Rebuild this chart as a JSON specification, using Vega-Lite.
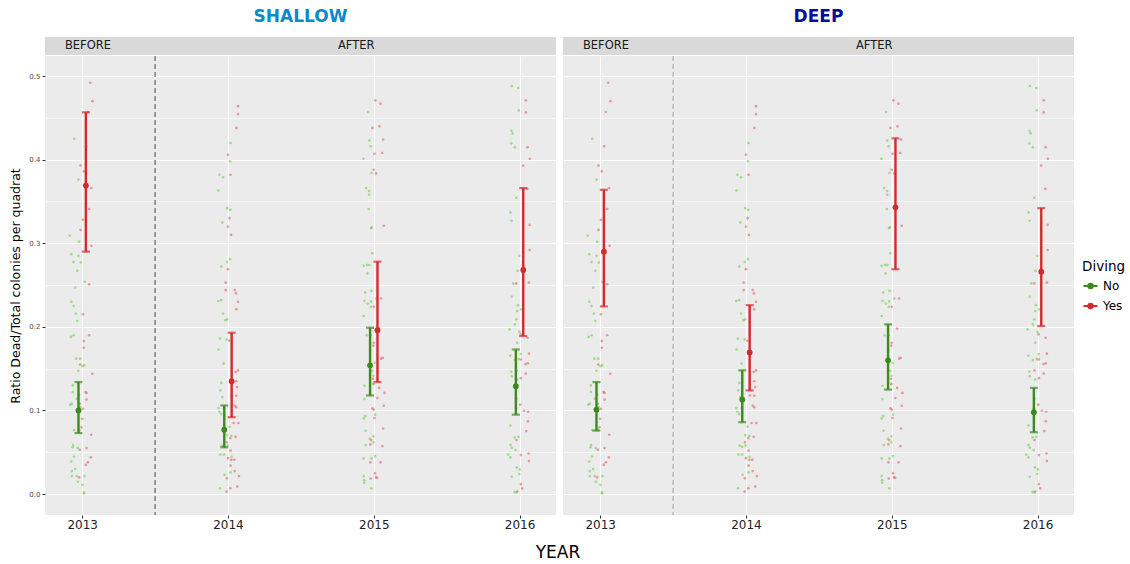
{
"$schema": "https://vega.github.io/schema/vega-lite/v6.json",
"padding": {"left": 9, "top": 8, "right": 5, "bottom": 5},
"config": {"font": "DejaVu Sans", "view": {"fill": "#ebebeb", "stroke": null}},
"title": {"text": "YEAR", "orient": "bottom", "anchor": "middle", "fontSize": 17, "fontWeight": "normal", "color": "#000000", "offset": 15, "frame": "group", "dx": 513},
"datasets": {
"sum": [
{"depth":"SHALLOW","diving":"No","year":2013,"mean":0.100,"lo":0.073,"hi":0.134},
{"depth":"SHALLOW","diving":"Yes","year":2013,"mean":0.369,"lo":0.290,"hi":0.4566},
{"depth":"SHALLOW","diving":"No","year":2014,"mean":0.077,"lo":0.056,"hi":0.106},
{"depth":"SHALLOW","diving":"Yes","year":2014,"mean":0.135,"lo":0.092,"hi":0.193},
{"depth":"SHALLOW","diving":"No","year":2015,"mean":0.154,"lo":0.118,"hi":0.199},
{"depth":"SHALLOW","diving":"Yes","year":2015,"mean":0.196,"lo":0.134,"hi":0.278},
{"depth":"SHALLOW","diving":"No","year":2016,"mean":0.129,"lo":0.095,"hi":0.173},
{"depth":"SHALLOW","diving":"Yes","year":2016,"mean":0.268,"lo":0.189,"hi":0.366},
{"depth":"DEEP","diving":"No","year":2013,"mean":0.101,"lo":0.076,"hi":0.134},
{"depth":"DEEP","diving":"Yes","year":2013,"mean":0.290,"lo":0.2245,"hi":0.364},
{"depth":"DEEP","diving":"No","year":2014,"mean":0.113,"lo":0.086,"hi":0.148},
{"depth":"DEEP","diving":"Yes","year":2014,"mean":0.1695,"lo":0.124,"hi":0.226},
{"depth":"DEEP","diving":"No","year":2015,"mean":0.160,"lo":0.125,"hi":0.203},
{"depth":"DEEP","diving":"Yes","year":2015,"mean":0.343,"lo":0.269,"hi":0.4255},
{"depth":"DEEP","diving":"No","year":2016,"mean":0.098,"lo":0.074,"hi":0.127},
{"depth":"DEEP","diving":"Yes","year":2016,"mean":0.266,"lo":0.201,"hi":0.342}
],
"pts": [
{"diving":"Yes","year":2013.055,"ratio":0.492},{"diving":"Yes","year":2013.071,"ratio":0.470},{"diving":"Yes","year":2013.039,"ratio":0.457},{"diving":"Yes","year":2013.027,"ratio":0.416},{"diving":"Yes","year":2012.989,"ratio":0.393},{"diving":"Yes","year":2013.011,"ratio":0.386},{"diving":"Yes","year":2013.062,"ratio":0.366},{"diving":"Yes","year":2013.048,"ratio":0.341},{"diving":"Yes","year":2013.005,"ratio":0.328},{"diving":"Yes","year":2012.989,"ratio":0.316},{"diving":"Yes","year":2013.064,"ratio":0.297},{"diving":"Yes","year":2013.048,"ratio":0.251},{"diving":"Yes","year":2013.005,"ratio":0.215},{"diving":"Yes","year":2013.048,"ratio":0.190},{"diving":"Yes","year":2013.011,"ratio":0.183},{"diving":"Yes","year":2013.011,"ratio":0.175},{"diving":"Yes","year":2012.986,"ratio":0.155},{"diving":"Yes","year":2013.069,"ratio":0.144},{"diving":"Yes","year":2013.023,"ratio":0.122},{"diving":"Yes","year":2013.030,"ratio":0.121},{"diving":"Yes","year":2012.979,"ratio":0.119},{"diving":"Yes","year":2013.030,"ratio":0.113},{"diving":"Yes","year":2012.984,"ratio":0.108},{"diving":"Yes","year":2013.005,"ratio":0.102},{"diving":"Yes","year":2013.000,"ratio":0.090},{"diving":"Yes","year":2012.995,"ratio":0.080},{"diving":"Yes","year":2013.062,"ratio":0.071},{"diving":"Yes","year":2013.030,"ratio":0.055},{"diving":"Yes","year":2012.984,"ratio":0.053},{"diving":"Yes","year":2013.039,"ratio":0.038},{"diving":"Yes","year":2013.025,"ratio":0.035},{"diving":"Yes","year":2013.059,"ratio":0.044},{"diving":"Yes","year":2012.979,"ratio":0.020},
{"diving":"No","year":2012.945,"ratio":0.425},{"diving":"No","year":2012.975,"ratio":0.376},{"diving":"No","year":2012.915,"ratio":0.309},{"diving":"No","year":2012.979,"ratio":0.302},{"diving":"No","year":2012.925,"ratio":0.287},{"diving":"No","year":2012.975,"ratio":0.285},{"diving":"No","year":2012.941,"ratio":0.2775},{"diving":"No","year":2012.991,"ratio":0.277},{"diving":"No","year":2012.966,"ratio":0.267},{"diving":"No","year":2013.016,"ratio":0.254},{"diving":"No","year":2012.952,"ratio":0.247},{"diving":"No","year":2012.925,"ratio":0.230},{"diving":"No","year":2012.941,"ratio":0.225},{"diving":"No","year":2012.957,"ratio":0.216},{"diving":"No","year":2012.966,"ratio":0.207},{"diving":"No","year":2012.922,"ratio":0.188},{"diving":"No","year":2012.941,"ratio":0.190},{"diving":"No","year":2012.959,"ratio":0.162},{"diving":"No","year":2012.986,"ratio":0.162},{"diving":"No","year":2012.973,"ratio":0.1475},{"diving":"No","year":2013.002,"ratio":0.153},{"diving":"No","year":2013.014,"ratio":0.154},{"diving":"No","year":2012.936,"ratio":0.130},{"diving":"No","year":2012.936,"ratio":0.122},{"diving":"No","year":2012.963,"ratio":0.114},{"diving":"No","year":2012.929,"ratio":0.108},{"diving":"No","year":2012.918,"ratio":0.107},{"diving":"No","year":2012.989,"ratio":0.104},{"diving":"No","year":2012.945,"ratio":0.0766},{"diving":"No","year":2012.982,"ratio":0.0766},{"diving":"No","year":2012.938,"ratio":0.0586},{"diving":"No","year":2012.934,"ratio":0.056},{"diving":"No","year":2012.970,"ratio":0.055},{"diving":"No","year":2012.945,"ratio":0.045},{"diving":"No","year":2012.925,"ratio":0.039},{"diving":"No","year":2012.929,"ratio":0.0275},{"diving":"No","year":2012.952,"ratio":0.030},{"diving":"No","year":2012.929,"ratio":0.0215},{"diving":"No","year":2012.963,"ratio":0.0215},{"diving":"No","year":2012.970,"ratio":0.0148},{"diving":"No","year":2013.016,"ratio":0.0215},{"diving":"No","year":2013.002,"ratio":0.011},{"diving":"No","year":2013.011,"ratio":0.002},{"diving":"No","year":2013.014,"ratio":0.001},
{"diving":"Yes","year":2014.069,"ratio":0.464},{"diving":"Yes","year":2014.069,"ratio":0.4545},{"diving":"Yes","year":2014.057,"ratio":0.438},{"diving":"Yes","year":2014.000,"ratio":0.406},{"diving":"Yes","year":2014.018,"ratio":0.382},{"diving":"Yes","year":2014.011,"ratio":0.330},{"diving":"Yes","year":2014.000,"ratio":0.320},{"diving":"Yes","year":2014.021,"ratio":0.310},{"diving":"Yes","year":2014.000,"ratio":0.269},{"diving":"Yes","year":2013.984,"ratio":0.253},{"diving":"Yes","year":2013.984,"ratio":0.244},{"diving":"Yes","year":2014.046,"ratio":0.244},{"diving":"Yes","year":2014.055,"ratio":0.240},{"diving":"Yes","year":2014.069,"ratio":0.230},{"diving":"Yes","year":2014.057,"ratio":0.221},{"diving":"Yes","year":2014.009,"ratio":0.1834},{"diving":"Yes","year":2014.069,"ratio":0.148},{"diving":"Yes","year":2014.053,"ratio":0.146},{"diving":"Yes","year":2014.057,"ratio":0.135},{"diving":"Yes","year":2014.062,"ratio":0.128},{"diving":"Yes","year":2014.027,"ratio":0.118},{"diving":"Yes","year":2014.057,"ratio":0.1175},{"diving":"Yes","year":2014.046,"ratio":0.106},{"diving":"Yes","year":2014.057,"ratio":0.104},{"diving":"Yes","year":2013.973,"ratio":0.1025},{"diving":"Yes","year":2014.039,"ratio":0.085},{"diving":"Yes","year":2014.071,"ratio":0.085},{"diving":"Yes","year":2014.016,"ratio":0.067},{"diving":"Yes","year":2013.993,"ratio":0.062},{"diving":"Yes","year":2014.053,"ratio":0.0686},{"diving":"Yes","year":2014.018,"ratio":0.052},{"diving":"Yes","year":2014.000,"ratio":0.043},{"diving":"Yes","year":2014.023,"ratio":0.041},{"diving":"Yes","year":2014.043,"ratio":0.041},{"diving":"Yes","year":2014.018,"ratio":0.034},{"diving":"Yes","year":2014.046,"ratio":0.0275},{"diving":"Yes","year":2014.075,"ratio":0.0215},{"diving":"Yes","year":2013.993,"ratio":0.019},{"diving":"Yes","year":2014.064,"ratio":0.009},{"diving":"Yes","year":2014.016,"ratio":0.007},{"diving":"Yes","year":2013.991,"ratio":0.003},
{"diving":"No","year":2014.018,"ratio":0.420},{"diving":"No","year":2014.014,"ratio":0.398},{"diving":"No","year":2013.941,"ratio":0.382},{"diving":"No","year":2013.966,"ratio":0.379},{"diving":"No","year":2013.934,"ratio":0.363},{"diving":"No","year":2013.995,"ratio":0.342},{"diving":"No","year":2014.016,"ratio":0.340},{"diving":"No","year":2013.961,"ratio":0.325},{"diving":"No","year":2014.014,"ratio":0.281},{"diving":"No","year":2013.993,"ratio":0.2775},{"diving":"No","year":2013.954,"ratio":0.272},{"diving":"No","year":2013.934,"ratio":0.231},{"diving":"No","year":2013.954,"ratio":0.232},{"diving":"No","year":2013.966,"ratio":0.216},{"diving":"No","year":2013.982,"ratio":0.208},{"diving":"No","year":2013.995,"ratio":0.209},{"diving":"No","year":2013.945,"ratio":0.186},{"diving":"No","year":2013.991,"ratio":0.185},{"diving":"No","year":2013.936,"ratio":0.173},{"diving":"No","year":2013.970,"ratio":0.156},{"diving":"No","year":2013.954,"ratio":0.133},{"diving":"No","year":2013.947,"ratio":0.124},{"diving":"No","year":2013.961,"ratio":0.116},{"diving":"No","year":2013.934,"ratio":0.103},{"diving":"No","year":2013.941,"ratio":0.0985},{"diving":"No","year":2013.954,"ratio":0.0957},{"diving":"No","year":2014.011,"ratio":0.0805},{"diving":"No","year":2013.995,"ratio":0.0706},{"diving":"No","year":2014.023,"ratio":0.0698},{"diving":"No","year":2013.957,"ratio":0.058},{"diving":"No","year":2013.973,"ratio":0.0566},{"diving":"No","year":2013.998,"ratio":0.058},{"diving":"No","year":2013.947,"ratio":0.0474},{"diving":"No","year":2013.973,"ratio":0.0474},{"diving":"No","year":2014.025,"ratio":0.0447},{"diving":"No","year":2014.018,"ratio":0.026},{"diving":"No","year":2013.977,"ratio":0.023},{"diving":"No","year":2013.945,"ratio":0.007},
{"diving":"Yes","year":2015.011,"ratio":0.471},{"diving":"Yes","year":2015.046,"ratio":0.467},{"diving":"Yes","year":2014.991,"ratio":0.438},{"diving":"Yes","year":2015.039,"ratio":0.440},{"diving":"Yes","year":2015.064,"ratio":0.424},{"diving":"Yes","year":2015.057,"ratio":0.408},{"diving":"Yes","year":2015.005,"ratio":0.407},{"diving":"Yes","year":2015.000,"ratio":0.388},{"diving":"Yes","year":2015.016,"ratio":0.3836},{"diving":"Yes","year":2015.069,"ratio":0.321},{"diving":"Yes","year":2015.050,"ratio":0.234},{"diving":"Yes","year":2015.000,"ratio":0.224},{"diving":"Yes","year":2015.037,"ratio":0.198},{"diving":"Yes","year":2015.000,"ratio":0.181},{"diving":"Yes","year":2014.998,"ratio":0.1775},{"diving":"Yes","year":2015.050,"ratio":0.162},{"diving":"Yes","year":2015.062,"ratio":0.163},{"diving":"Yes","year":2014.995,"ratio":0.138},{"diving":"Yes","year":2014.998,"ratio":0.1316},{"diving":"Yes","year":2015.037,"ratio":0.127},{"diving":"Yes","year":2015.073,"ratio":0.121},{"diving":"Yes","year":2015.025,"ratio":0.115},{"diving":"Yes","year":2015.069,"ratio":0.1057},{"diving":"Yes","year":2014.991,"ratio":0.1025},{"diving":"Yes","year":2015.000,"ratio":0.101},{"diving":"Yes","year":2015.005,"ratio":0.091},{"diving":"Yes","year":2015.064,"ratio":0.0785},{"diving":"Yes","year":2014.982,"ratio":0.0646},{"diving":"Yes","year":2015.059,"ratio":0.0574},{"diving":"Yes","year":2014.977,"ratio":0.0594},{"diving":"Yes","year":2015.046,"ratio":0.038},{"diving":"Yes","year":2014.977,"ratio":0.038},{"diving":"Yes","year":2015.009,"ratio":0.025},{"diving":"Yes","year":2014.979,"ratio":0.0187},{"diving":"Yes","year":2015.016,"ratio":0.020},{"diving":"Yes","year":2015.023,"ratio":0.0195},
{"diving":"No","year":2014.961,"ratio":0.457},{"diving":"No","year":2014.970,"ratio":0.423},{"diving":"No","year":2014.979,"ratio":0.416},{"diving":"No","year":2014.929,"ratio":0.401},{"diving":"No","year":2014.984,"ratio":0.384},{"diving":"No","year":2014.947,"ratio":0.366},{"diving":"No","year":2014.968,"ratio":0.3624},{"diving":"No","year":2014.968,"ratio":0.358},{"diving":"No","year":2014.966,"ratio":0.341},{"diving":"No","year":2014.982,"ratio":0.318},{"diving":"No","year":2014.986,"ratio":0.319},{"diving":"No","year":2014.989,"ratio":0.288},{"diving":"No","year":2014.931,"ratio":0.273},{"diving":"No","year":2014.954,"ratio":0.274},{"diving":"No","year":2014.970,"ratio":0.274},{"diving":"No","year":2014.957,"ratio":0.264},{"diving":"No","year":2014.941,"ratio":0.241},{"diving":"No","year":2014.984,"ratio":0.243},{"diving":"No","year":2014.936,"ratio":0.231},{"diving":"No","year":2014.959,"ratio":0.228},{"diving":"No","year":2014.982,"ratio":0.2305},{"diving":"No","year":2015.018,"ratio":0.234},{"diving":"No","year":2014.979,"ratio":0.224},{"diving":"No","year":2014.931,"ratio":0.213},{"diving":"No","year":2014.952,"ratio":0.190},{"diving":"No","year":2014.979,"ratio":0.190},{"diving":"No","year":2014.975,"ratio":0.172},{"diving":"No","year":2015.007,"ratio":0.157},{"diving":"No","year":2014.991,"ratio":0.1475},{"diving":"No","year":2014.998,"ratio":0.1415},{"diving":"No","year":2014.995,"ratio":0.132},{"diving":"No","year":2014.936,"ratio":0.1296},{"diving":"No","year":2014.936,"ratio":0.1136},{"diving":"No","year":2014.941,"ratio":0.0933},{"diving":"No","year":2014.931,"ratio":0.0905},{"diving":"No","year":2015.009,"ratio":0.095},{"diving":"No","year":2014.943,"ratio":0.0758},{"diving":"No","year":2014.973,"ratio":0.066},{"diving":"No","year":2014.998,"ratio":0.069},{"diving":"No","year":2014.945,"ratio":0.0586},{"diving":"No","year":2014.998,"ratio":0.062},{"diving":"No","year":2014.931,"ratio":0.0427},{"diving":"No","year":2014.984,"ratio":0.0427},{"diving":"No","year":2015.009,"ratio":0.0455},{"diving":"No","year":2014.931,"ratio":0.0215},{"diving":"No","year":2014.934,"ratio":0.0167},{"diving":"No","year":2014.934,"ratio":0.0136},{"diving":"No","year":2014.984,"ratio":0.0068},
{"diving":"Yes","year":2016.043,"ratio":0.471},{"diving":"Yes","year":2016.043,"ratio":0.4565},{"diving":"Yes","year":2016.055,"ratio":0.415},{"diving":"Yes","year":2016.071,"ratio":0.401},{"diving":"Yes","year":2016.025,"ratio":0.393},{"diving":"Yes","year":2016.053,"ratio":0.365},{"diving":"Yes","year":2016.069,"ratio":0.322},{"diving":"Yes","year":2016.069,"ratio":0.292},{"diving":"Yes","year":2016.064,"ratio":0.253},{"diving":"Yes","year":2015.977,"ratio":0.252},{"diving":"Yes","year":2016.007,"ratio":0.191},{"diving":"Yes","year":2016.055,"ratio":0.187},{"diving":"Yes","year":2016.064,"ratio":0.168},{"diving":"Yes","year":2016.009,"ratio":0.161},{"diving":"Yes","year":2016.057,"ratio":0.1565},{"diving":"Yes","year":2016.041,"ratio":0.1555},{"diving":"Yes","year":2015.979,"ratio":0.148},{"diving":"Yes","year":2016.043,"ratio":0.1443},{"diving":"Yes","year":2016.009,"ratio":0.1387},{"diving":"Yes","year":2015.977,"ratio":0.1144},{"diving":"Yes","year":2016.005,"ratio":0.107},{"diving":"Yes","year":2016.030,"ratio":0.0997},{"diving":"Yes","year":2016.059,"ratio":0.0985},{"diving":"Yes","year":2016.057,"ratio":0.087},{"diving":"Yes","year":2016.046,"ratio":0.0754},{"diving":"Yes","year":2015.979,"ratio":0.0646},{"diving":"Yes","year":2016.009,"ratio":0.0467},{"diving":"Yes","year":2016.062,"ratio":0.0486},{"diving":"Yes","year":2016.064,"ratio":0.0395},{"diving":"Yes","year":2016.009,"ratio":0.012},{"diving":"Yes","year":2016.018,"ratio":0.0068},{"diving":"Yes","year":2015.984,"ratio":0.003},
{"diving":"No","year":2015.947,"ratio":0.488},{"diving":"No","year":2015.991,"ratio":0.4857},{"diving":"No","year":2015.995,"ratio":0.459},{"diving":"No","year":2015.945,"ratio":0.4346},{"diving":"No","year":2015.952,"ratio":0.4314},{"diving":"No","year":2015.943,"ratio":0.4195},{"diving":"No","year":2015.968,"ratio":0.415},{"diving":"No","year":2015.977,"ratio":0.3545},{"diving":"No","year":2015.938,"ratio":0.337},{"diving":"No","year":2015.945,"ratio":0.327},{"diving":"No","year":2015.998,"ratio":0.285},{"diving":"No","year":2015.986,"ratio":0.267},{"diving":"No","year":2015.957,"ratio":0.252},{"diving":"No","year":2015.947,"ratio":0.236},{"diving":"No","year":2015.989,"ratio":0.226},{"diving":"No","year":2015.984,"ratio":0.219},{"diving":"No","year":2016.011,"ratio":0.221},{"diving":"No","year":2015.977,"ratio":0.209},{"diving":"No","year":2015.968,"ratio":0.203},{"diving":"No","year":2015.931,"ratio":0.197},{"diving":"No","year":2016.000,"ratio":0.194},{"diving":"No","year":2015.984,"ratio":0.181},{"diving":"No","year":2015.936,"ratio":0.1655},{"diving":"No","year":2015.968,"ratio":0.1603},{"diving":"No","year":2016.009,"ratio":0.1675},{"diving":"No","year":2015.995,"ratio":0.1615},{"diving":"No","year":2015.943,"ratio":0.1463},{"diving":"No","year":2015.947,"ratio":0.141},{"diving":"No","year":2015.984,"ratio":0.137},{"diving":"No","year":2015.975,"ratio":0.1025},{"diving":"No","year":2015.938,"ratio":0.082},{"diving":"No","year":2015.966,"ratio":0.0678},{"diving":"No","year":2015.993,"ratio":0.0686},{"diving":"No","year":2015.938,"ratio":0.0586},{"diving":"No","year":2015.947,"ratio":0.0554},{"diving":"No","year":2015.973,"ratio":0.0526},{"diving":"No","year":2015.922,"ratio":0.0474},{"diving":"No","year":2015.938,"ratio":0.0439},{"diving":"No","year":2015.982,"ratio":0.032},{"diving":"No","year":2016.002,"ratio":0.0295},{"diving":"No","year":2015.947,"ratio":0.0207},{"diving":"No","year":2015.966,"ratio":0.0024},{"diving":"No","year":2015.979,"ratio":0.002},{"diving":"No","year":2015.998,"ratio":0.024}
]
},
"spacing": 7,
"hconcat": [
{
"spacing": 0,
"vconcat": [
{
"title": {"text": "SHALLOW", "color": "#0a8ac8", "fontSize": 17, "fontWeight": "bold", "anchor": "middle", "offset": 11},
"width": 511, "height": 18,
"view": {"fill": "#d9d9d9", "stroke": null},
"data": {"values": [{}]},
"layer": [
{"mark": {"type": "text", "text": "BEFORE", "fontSize": 11.5, "color": "#1a1a1a"}, "encoding": {"x": {"datum": 2013.04, "type": "quantitative", "scale": {"domain": [2012.745, 2016.25], "nice": false, "zero": false}, "axis": null}}},
{"mark": {"type": "text", "text": "AFTER", "fontSize": 11.5, "color": "#1a1a1a"}, "encoding": {"x": {"datum": 2014.88, "type": "quantitative"}}}
]
},
{
"width": 511, "height": 459,
"layer": [
{"data": {"name": "pts"},
 "mark": {"type": "point", "filled": true, "size": 7, "opacity": 0.6, "color": {"expr": "datum.diving === 'No' ? '#6fcf4a' : '#e06060'"}},
 "encoding": {
  "x": {"field": "year", "type": "quantitative", "scale": {"domain": [2012.745, 2016.25], "nice": false, "zero": false},
   "axis": {"values": [2013, 2013.5, 2014, 2014.5, 2015, 2015.5, 2016], "title": null, "domain": false, "format": "d", "labelOverlap": false, "labelFlush": false, "labelExpr": "datum.value % 1 === 0 ? datum.label : ''", "labelFontSize": 12, "labelColor": "#222222", "labelPadding": 1, "tickColor": "#333333", "tickSize": 3, "tickOpacity": {"condition": {"test": "datum.value % 1 !== 0", "value": 0}, "value": 1}, "gridColor": "#ffffff", "gridWidth": {"condition": {"test": "datum.value % 1 !== 0", "value": 0.5}, "value": 1.1}}},
  "y": {"field": "ratio", "type": "quantitative", "scale": {"domain": [-0.025, 0.524], "nice": false, "zero": false},
   "axis": {"values": [0, 0.05, 0.1, 0.15, 0.2, 0.25, 0.3, 0.35, 0.4, 0.45, 0.5], "title": "Ratio Dead/Total colonies per quadrat", "titleFontSize": 12.5, "titleFontWeight": "normal", "titleColor": "#000000", "titlePadding": 6, "domain": false, "format": ".1f", "labelOverlap": false, "labelFlush": false, "labelExpr": "abs(datum.value*10 - round(datum.value*10)) < 0.001 ? datum.label : ''", "labelFontSize": 7, "labelColor": "#4d4d4d", "labelPadding": 2, "tickColor": "#333333", "tickSize": 3, "tickOpacity": {"condition": {"test": "abs(datum.value*10 - round(datum.value*10)) > 0.001", "value": 0}, "value": 1}, "gridColor": "#ffffff", "gridWidth": {"condition": {"test": "abs(datum.value*10 - round(datum.value*10)) > 0.001", "value": 0.5}, "value": 1.1}}}
 }},
{"data": {"values": [{}]},
 "mark": {"type": "rule", "strokeDash": [5, 3], "color": "#555555", "strokeWidth": 1.1},
 "encoding": {"x": {"datum": 2013.5, "type": "quantitative"}}},
{"data": {"name": "sum"}, "transform": [{"filter": "datum.depth === 'SHALLOW'"}],
 "mark": {"type": "rule", "strokeWidth": 2.4, "xOffset": {"expr": "datum.diving === 'No' ? -3.7 : 3.7"}},
 "encoding": {"x": {"field": "year", "type": "quantitative"}, "y": {"field": "lo", "type": "quantitative"}, "y2": {"field": "hi"},
  "color": {"field": "diving", "type": "nominal", "scale": {"domain": ["No", "Yes"], "range": ["#3b8a1e", "#d42a2e"]},
   "legend": {"title": "Diving", "orient": "none", "legendX": 1037, "legendY": 223, "titleFontSize": 13.5, "titleFontWeight": "normal", "titleColor": "#000000", "labelFontSize": 12, "labelColor": "#000000", "symbolType": "M-1,0H1M-0.3,0A0.3,0.3,0,1,1,0.3,0A0.3,0.3,0,1,1,-0.3,0Z", "symbolSize": 196, "symbolStrokeWidth": 2.2, "rowPadding": 5, "titlePadding": 4,
    "encode": {"symbols": {"update": {"fill": {"scale": "color", "field": "value"}, "stroke": {"scale": "color", "field": "value"}}}}}}}},
{"data": {"name": "sum"}, "transform": [{"filter": "datum.depth === 'SHALLOW'"}],
 "mark": {"type": "tick", "orient": "horizontal", "size": 8, "thickness": 2.2, "xOffset": {"expr": "datum.diving === 'No' ? -3.7 : 3.7"}},
 "encoding": {"x": {"field": "year", "type": "quantitative"}, "y": {"field": "lo", "type": "quantitative"}, "color": {"field": "diving", "type": "nominal"}}},
{"data": {"name": "sum"}, "transform": [{"filter": "datum.depth === 'SHALLOW'"}],
 "mark": {"type": "tick", "orient": "horizontal", "size": 8, "thickness": 2.2, "xOffset": {"expr": "datum.diving === 'No' ? -3.7 : 3.7"}},
 "encoding": {"x": {"field": "year", "type": "quantitative"}, "y": {"field": "hi", "type": "quantitative"}, "color": {"field": "diving", "type": "nominal"}}},
{"data": {"name": "sum"}, "transform": [{"filter": "datum.depth === 'SHALLOW'"}],
 "mark": {"type": "point", "filled": true, "size": 34, "opacity": 1, "xOffset": {"expr": "datum.diving === 'No' ? -3.7 : 3.7"}},
 "encoding": {"x": {"field": "year", "type": "quantitative"}, "y": {"field": "mean", "type": "quantitative"}, "color": {"field": "diving", "type": "nominal"}}}
]
}
]
},
{
"spacing": 0,
"vconcat": [
{
"title": {"text": "DEEP", "color": "#0b0b9e", "fontSize": 17, "fontWeight": "bold", "anchor": "middle", "offset": 11},
"width": 511, "height": 18,
"view": {"fill": "#d9d9d9", "stroke": null},
"data": {"values": [{}]},
"layer": [
{"mark": {"type": "text", "text": "BEFORE", "fontSize": 11.5, "color": "#1a1a1a"}, "encoding": {"x": {"datum": 2013.04, "type": "quantitative", "scale": {"domain": [2012.745, 2016.25], "nice": false, "zero": false}, "axis": null}}},
{"mark": {"type": "text", "text": "AFTER", "fontSize": 11.5, "color": "#1a1a1a"}, "encoding": {"x": {"datum": 2014.88, "type": "quantitative"}}}
]
},
{
"width": 511, "height": 459,
"layer": [
{"data": {"name": "pts"},
 "mark": {"type": "point", "filled": true, "size": 7, "opacity": 0.6, "color": {"expr": "datum.diving === 'No' ? '#6fcf4a' : '#e06060'"}},
 "encoding": {
  "x": {"field": "year", "type": "quantitative", "scale": {"domain": [2012.745, 2016.25], "nice": false, "zero": false},
   "axis": {"values": [2013, 2013.5, 2014, 2014.5, 2015, 2015.5, 2016], "title": null, "domain": false, "format": "d", "labelOverlap": false, "labelFlush": false, "labelExpr": "datum.value % 1 === 0 ? datum.label : ''", "labelFontSize": 12, "labelColor": "#222222", "labelPadding": 1, "tickColor": "#333333", "tickSize": 3, "tickOpacity": {"condition": {"test": "datum.value % 1 !== 0", "value": 0}, "value": 1}, "gridColor": "#ffffff", "gridWidth": {"condition": {"test": "datum.value % 1 !== 0", "value": 0.5}, "value": 1.1}}},
  "y": {"field": "ratio", "type": "quantitative", "scale": {"domain": [-0.025, 0.524], "nice": false, "zero": false},
   "axis": {"values": [0, 0.05, 0.1, 0.15, 0.2, 0.25, 0.3, 0.35, 0.4, 0.45, 0.5], "title": null, "domain": false, "labels": false, "ticks": false, "gridColor": "#ffffff", "gridWidth": {"condition": {"test": "abs(datum.value*10 - round(datum.value*10)) > 0.001", "value": 0.5}, "value": 1.1}}}
 }},
{"data": {"values": [{}]},
 "mark": {"type": "rule", "strokeDash": [5, 3], "color": "#aaaaaa", "strokeWidth": 1.1},
 "encoding": {"x": {"datum": 2013.5, "type": "quantitative"}}},
{"data": {"name": "sum"}, "transform": [{"filter": "datum.depth === 'DEEP'"}],
 "mark": {"type": "rule", "strokeWidth": 2.4, "xOffset": {"expr": "datum.diving === 'No' ? -3.7 : 3.7"}},
 "encoding": {"x": {"field": "year", "type": "quantitative"}, "y": {"field": "lo", "type": "quantitative"}, "y2": {"field": "hi"}, "color": {"field": "diving", "type": "nominal"}}},
{"data": {"name": "sum"}, "transform": [{"filter": "datum.depth === 'DEEP'"}],
 "mark": {"type": "tick", "orient": "horizontal", "size": 8, "thickness": 2.2, "xOffset": {"expr": "datum.diving === 'No' ? -3.7 : 3.7"}},
 "encoding": {"x": {"field": "year", "type": "quantitative"}, "y": {"field": "lo", "type": "quantitative"}, "color": {"field": "diving", "type": "nominal"}}},
{"data": {"name": "sum"}, "transform": [{"filter": "datum.depth === 'DEEP'"}],
 "mark": {"type": "tick", "orient": "horizontal", "size": 8, "thickness": 2.2, "xOffset": {"expr": "datum.diving === 'No' ? -3.7 : 3.7"}},
 "encoding": {"x": {"field": "year", "type": "quantitative"}, "y": {"field": "hi", "type": "quantitative"}, "color": {"field": "diving", "type": "nominal"}}},
{"data": {"name": "sum"}, "transform": [{"filter": "datum.depth === 'DEEP'"}],
 "mark": {"type": "point", "filled": true, "size": 34, "opacity": 1, "xOffset": {"expr": "datum.diving === 'No' ? -3.7 : 3.7"}},
 "encoding": {"x": {"field": "year", "type": "quantitative"}, "y": {"field": "mean", "type": "quantitative"}, "color": {"field": "diving", "type": "nominal"}}}
]
}
]
}
]
}
